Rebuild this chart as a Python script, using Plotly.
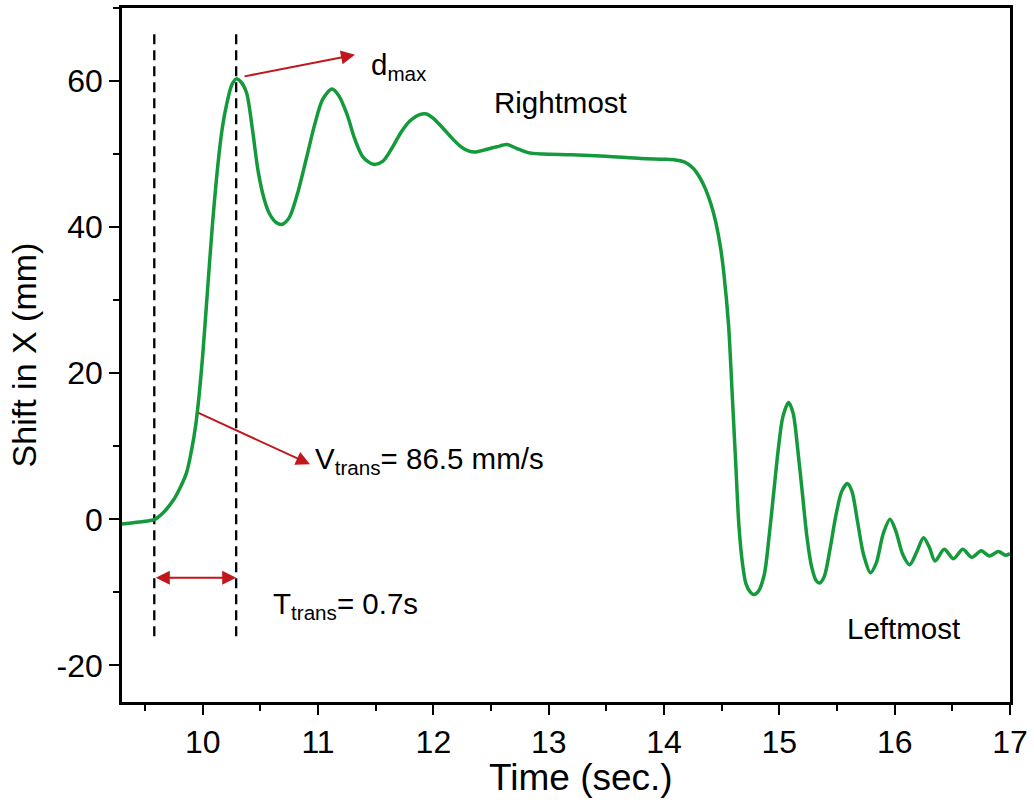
import plotly.graph_objects as go

# ---- data ----
time_s = [9.30, 9.40, 9.50, 9.58, 9.65, 9.74, 9.80, 9.86, 9.90, 9.94,
          9.97, 10.00, 10.04, 10.08, 10.13, 10.17, 10.21, 10.25, 10.29, 10.33,
          10.38, 10.43, 10.48, 10.53, 10.58, 10.64, 10.69, 10.75, 10.82, 10.90,
          10.97, 11.04, 11.12, 11.18, 11.25, 11.32, 11.39, 11.48, 11.56, 11.64,
          11.72, 11.80, 11.88, 11.94, 12.00, 12.08, 12.16, 12.24, 12.31, 12.37,
          12.45, 12.55, 12.64, 12.72, 12.82, 12.95, 13.20, 13.50, 13.80, 14.00,
          14.10, 14.18, 14.25, 14.31, 14.36, 14.41, 14.45, 14.49, 14.52, 14.56,
          14.59, 14.62, 14.65, 14.68, 14.71, 14.75, 14.78, 14.82, 14.87, 14.91,
          14.95, 14.99, 15.03, 15.08, 15.12, 15.16, 15.20, 15.24, 15.28, 15.32,
          15.35, 15.39, 15.44, 15.49, 15.54, 15.59, 15.63, 15.68, 15.73, 15.79,
          15.84, 15.90, 15.96, 16.01, 16.07, 16.13, 16.19, 16.25, 16.30, 16.35,
          16.43, 16.51, 16.59, 16.67, 16.75, 16.82, 16.90, 16.96, 17.00]
shift_mm = [-0.65, -0.45, -0.25, -0.05, 0.8, 2.5, 4.2, 6.4, 9.2, 13.0,
            17.2, 22.5, 31.0, 39.5, 48.3, 53.6, 57.0, 59.4, 60.3, 59.9,
            58.4, 53.5, 47.7, 44.0, 41.8, 40.6, 40.4, 41.3, 44.5, 49.5,
            54.0, 57.5, 58.9, 58.0, 55.5, 52.0, 49.6, 48.6, 49.0, 50.8,
            53.0, 54.6, 55.4, 55.5, 54.9, 53.6, 52.2, 51.0, 50.4, 50.3,
            50.6, 51.0, 51.3, 50.8, 50.2, 50.0, 49.9, 49.7, 49.4, 49.3,
            49.2, 48.9, 48.1, 46.8, 45.2, 43.0, 40.6, 37.2, 33.5, 26.5,
            17.5, 8.2, -1.0, -6.0, -8.8, -10.0, -10.3, -9.8, -7.5, -2.5,
            3.5, 9.5, 14.0, 16.0, 14.5, 9.5, 3.5, -2.5, -6.5, -8.4,
            -8.7, -7.8, -4.0, 0.5, 3.8, 4.9, 3.8, -0.5, -4.8, -7.3,
            -6.0, -2.0, 0.0, -1.6, -4.8, -6.2, -4.5, -2.5, -3.8, -5.7,
            -4.1, -5.4, -4.1, -5.2, -4.3, -5.0, -4.4, -4.9, -4.7]

t_start = 9.58      # start of transition (dashed line)
t_peak = 10.29      # time of d_max (dashed line)
dash_y = [-16.0, 66.5]   # vertical extent of the dashed markers

x_ticks = [10, 11, 12, 13, 14, 15, 16, 17]
y_ticks = [-20, 0, 20, 40, 60]

GREEN = "#149a3b"
RED = "#c0161c"
FONT = "Liberation Sans, Arial, sans-serif"

fig = go.Figure()
for tx in (t_start, t_peak):
    fig.add_trace(go.Scatter(x=[tx, tx], y=dash_y, mode="lines",
                             line=dict(color="black", width=2.3, dash="10px,6px"),
                             showlegend=False, hoverinfo="skip"))
fig.add_trace(go.Scatter(x=time_s, y=shift_mm, mode="lines",
                         line=dict(color=GREEN, width=3.5, shape="spline", smoothing=0.8),
                         showlegend=False))

arrow_common = dict(showarrow=True, arrowhead=2, arrowsize=1.4, arrowwidth=2,
                    arrowcolor=RED, axref="x", ayref="y", xref="x", yref="y",
                    text="", standoff=0, startstandoff=0)
# d_max arrow
fig.add_annotation(x=11.32, y=63.6, ax=10.35, ay=60.6, **arrow_common)
# V_trans arrow
fig.add_annotation(x=10.93, y=7.55, ax=9.95, ay=14.66, **arrow_common)
# T_trans double arrow
fig.add_annotation(x=t_peak, y=-8.0, ax=t_start, ay=-8.0, arrowside="end+start",
                   **arrow_common)

txt_font = dict(family=FONT, size=29.5, color="black")
fig.add_annotation(x=11.44, y=62.0, text="d<sub>max</sub>", showarrow=False,
                   xanchor="left", yanchor="middle", font=txt_font)
fig.add_annotation(x=13.10, y=57.0, text="Rightmost", showarrow=False,
                   xanchor="center", yanchor="middle", font=txt_font)
fig.add_annotation(x=10.96, y=8.0, text="V<sub>trans</sub>= 86.5 mm/s", showarrow=False,
                   xanchor="left", yanchor="middle", font=txt_font)
fig.add_annotation(x=10.59, y=-11.8, text="T<sub>trans</sub>= 0.7s", showarrow=False,
                   xanchor="left", yanchor="middle", font=txt_font)
fig.add_annotation(x=16.08, y=-15.0, text="Leftmost", showarrow=False,
                   xanchor="center", yanchor="middle", font=txt_font)

# x-axis title (placed as paper annotation to match the reference's offset)
fig.add_annotation(x=0.517, y=-0.109, xref="paper", yref="paper", text="Time (sec.)",
                   showarrow=False, xanchor="center", yanchor="middle",
                   font=dict(family=FONT, size=37, color="black"))

axis_common = dict(showline=True, linecolor="black", linewidth=2.5, mirror=True,
                   ticks="outside", ticklen=10, tickwidth=2, tickcolor="black",
                   showgrid=False, zeroline=False,
                   tickfont=dict(family=FONT, size=32, color="black"))

fig.update_xaxes(range=[9.3, 17.0], tickvals=x_ticks, ticktext=[str(v) for v in x_ticks],
                 minor=dict(ticks="outside", ticklen=6, tickwidth=2, tickcolor="black",
                            dtick=0.5, tick0=9.5),
                 **axis_common)
fig.update_yaxes(range=[-25, 70], tickvals=y_ticks, ticktext=[str(v) for v in y_ticks],
                 minor=dict(ticks="outside", ticklen=6, tickwidth=2, tickcolor="black",
                            dtick=10, tick0=0),
                 title=dict(text="Shift in X (mm)", font=dict(family=FONT, size=34, color="black"),
                            standoff=10),
                 **axis_common)

fig.update_layout(width=1034, height=803, plot_bgcolor="white", paper_bgcolor="white",
                  margin=dict(l=122, r=24, t=5, b=101), showlegend=False,
                  font=dict(family=FONT, color="black"))

fig.write_html("out.html")
